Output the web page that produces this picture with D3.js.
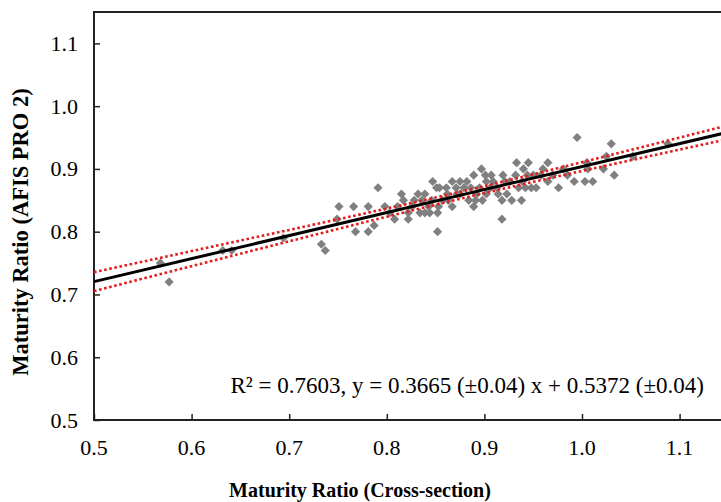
<!DOCTYPE html>
<html>
<head>
<meta charset="utf-8">
<script src="https://cdn.jsdelivr.net/npm/d3@7"></script>
<style>
  html, body { margin: 0; padding: 0; background: #fff; overflow: hidden; }
  svg { display: block; }
</style>
</head>
<body>
<div id="chart"></div>
<script>
// measured points: [cross-section, AFIS PRO 2]
var points = [
  [0.568, 0.75], [0.577, 0.72], [0.632, 0.77], [0.641, 0.77], [0.694, 0.79],
  [0.733, 0.78], [0.737, 0.77], [0.749, 0.82], [0.751, 0.84], [0.766, 0.84],
  [0.768, 0.80], [0.781, 0.84], [0.781, 0.80], [0.787, 0.81], [0.791, 0.87],
  [0.798, 0.84], [0.803, 0.83], [0.808, 0.82], [0.811, 0.84], [0.815, 0.86],
  [0.817, 0.85], [0.822, 0.83], [0.822, 0.82], [0.826, 0.84], [0.828, 0.85],
  [0.832, 0.86], [0.839, 0.86], [0.836, 0.85], [0.834, 0.83], [0.839, 0.83],
  [0.843, 0.84], [0.844, 0.83], [0.846, 0.85], [0.847, 0.88], [0.851, 0.87],
  [0.853, 0.84], [0.852, 0.83], [0.852, 0.80], [0.854, 0.87], [0.857, 0.85],
  [0.861, 0.87], [0.862, 0.86], [0.863, 0.85], [0.867, 0.88], [0.867, 0.84],
  [0.871, 0.87], [0.872, 0.86], [0.875, 0.88], [0.875, 0.86], [0.879, 0.87],
  [0.882, 0.88], [0.884, 0.85], [0.886, 0.87], [0.889, 0.89], [0.889, 0.84],
  [0.891, 0.85], [0.892, 0.86], [0.895, 0.87], [0.897, 0.90], [0.898, 0.85],
  [0.901, 0.89], [0.902, 0.88], [0.902, 0.86], [0.906, 0.87], [0.907, 0.89],
  [0.909, 0.88], [0.913, 0.87], [0.914, 0.86], [0.918, 0.85], [0.918, 0.82],
  [0.919, 0.89], [0.921, 0.88], [0.923, 0.86], [0.926, 0.88], [0.928, 0.85],
  [0.932, 0.89], [0.933, 0.91], [0.935, 0.87], [0.938, 0.85], [0.939, 0.88],
  [0.940, 0.90], [0.942, 0.87], [0.944, 0.89], [0.945, 0.91], [0.948, 0.87],
  [0.950, 0.89], [0.953, 0.87], [0.958, 0.89], [0.960, 0.90], [0.965, 0.91],
  [0.965, 0.88], [0.970, 0.89], [0.976, 0.87], [0.981, 0.90], [0.985, 0.89],
  [0.992, 0.88], [0.995, 0.95], [1.003, 0.88], [1.005, 0.91], [1.006, 0.90],
  [1.011, 0.88], [1.022, 0.90], [1.025, 0.92], [1.030, 0.94], [1.033, 0.89],
  [1.052, 0.92], [1.088, 0.94]
];

// fitted line
var slope = 0.3665;
var intercept = 0.5372;

// 95% confidence band
var bandX     = [0.5, 0.6, 0.7, 0.8, 0.9, 1.0, 1.1, 1.2];
var bandUpper = [0.7355, 0.7691, 0.8028, 0.8369, 0.8726, 0.9107, 0.9499, 0.9895];
var bandLower = [0.7054, 0.7451, 0.7847, 0.8239, 0.8615, 0.8967, 0.9308, 0.9645];

var xTicks = [0.5, 0.6, 0.7, 0.8, 0.9, 1.0, 1.1];
var yTicks = [0.5, 0.6, 0.7, 0.8, 0.9, 1.0, 1.1];

var eqText = "R\u00b2 = 0.7603, y = 0.3665 (\u00b10.04) x + 0.5372 (\u00b10.04)";
var xTitle = "Maturity Ratio (Cross-section)";
var yTitle = "Maturity Ratio (AFIS PRO 2)";

var width = 721, height = 502;
var plotLeft = 94, plotTop = 12, plotBottom = 420;

var svg = d3.select("#chart").append("svg")
  .attr("width", width)
  .attr("height", height);

var x = d3.scaleLinear().domain([0.5, 1.2]).range([plotLeft, plotLeft + 0.7 * 976]);
var y = d3.scaleLinear().domain([0.5, 1.15]).range([plotBottom, plotTop]);

var serif = "'Liberation Serif', 'Times New Roman', serif";

// frame (right edge falls outside the window)
svg.append("rect")
  .attr("x", x(0.5)).attr("y", y(1.15))
  .attr("width", x(1.2) - x(0.5)).attr("height", y(0.5) - y(1.15))
  .attr("fill", "none").attr("stroke", "#222").attr("stroke-width", 2);

// axes with inward ticks
var xAxis = svg.append("g")
  .attr("transform", "translate(0," + plotBottom + ")")
  .call(d3.axisTop(x).tickValues(xTicks).tickSize(6).tickFormat(""));
xAxis.select(".domain").remove();
xAxis.selectAll("line").attr("stroke", "#222").attr("stroke-width", 1.5);

var yAxis = svg.append("g")
  .attr("transform", "translate(" + plotLeft + ",0)")
  .call(d3.axisRight(y).tickValues(yTicks).tickSize(6).tickFormat(""));
yAxis.select(".domain").remove();
yAxis.selectAll("line").attr("stroke", "#222").attr("stroke-width", 1.5);

// tick labels
svg.append("g").selectAll("text")
  .data(xTicks).enter().append("text")
  .attr("x", function(d) { return x(d); })
  .attr("y", 455)
  .attr("text-anchor", "middle")
  .style("font-family", serif).style("font-size", "22px")
  .text(function(d) { return d.toFixed(1); });

svg.append("g").selectAll("text")
  .data(yTicks).enter().append("text")
  .attr("x", 78)
  .attr("y", function(d) { return y(d) + 7.5; })
  .attr("text-anchor", "end")
  .style("font-family", serif).style("font-size", "22px")
  .text(function(d) { return d.toFixed(1); });

// points
svg.append("g").selectAll("path")
  .data(points).enter().append("path")
  .attr("d", d3.symbol().type(d3.symbolSquare).size(42))
  .attr("transform", function(d) {
    return "translate(" + x(d[0]) + "," + y(d[1]) + ") rotate(45)";
  })
  .attr("fill", "#808080");

// fit line
var fitLine = d3.line()
  .x(function(d) { return x(d); })
  .y(function(d) { return y(slope * d + intercept); });
svg.append("path")
  .datum([0.5, 1.2])
  .attr("d", fitLine)
  .attr("fill", "none").attr("stroke", "#000").attr("stroke-width", 3);

// confidence band
var bandLine = d3.line()
  .curve(d3.curveNatural)
  .x(function(d) { return x(d[0]); })
  .y(function(d) { return y(d[1]); });
[bandUpper, bandLower].forEach(function(arr) {
  svg.append("path")
    .datum(bandX.map(function(v, i) { return [v, arr[i]]; }))
    .attr("d", bandLine)
    .attr("fill", "none").attr("stroke", "#e41c1c")
    .attr("stroke-width", 2.6).attr("stroke-dasharray", "2.6,2.6");
});

// equation
svg.append("text")
  .attr("x", 704).attr("y", 393)
  .attr("text-anchor", "end")
  .style("font-family", serif).style("font-size", "23px")
  .text(eqText);

// axis titles
svg.append("text")
  .attr("x", 360).attr("y", 497)
  .attr("text-anchor", "middle")
  .style("font-family", serif).style("font-size", "20px").style("font-weight", "bold")
  .text(xTitle);

svg.append("text")
  .attr("transform", "translate(28,232) rotate(-90)")
  .attr("text-anchor", "middle")
  .style("font-family", serif).style("font-size", "22.5px").style("font-weight", "bold")
  .text(yTitle);
</script>
</body>
</html>
